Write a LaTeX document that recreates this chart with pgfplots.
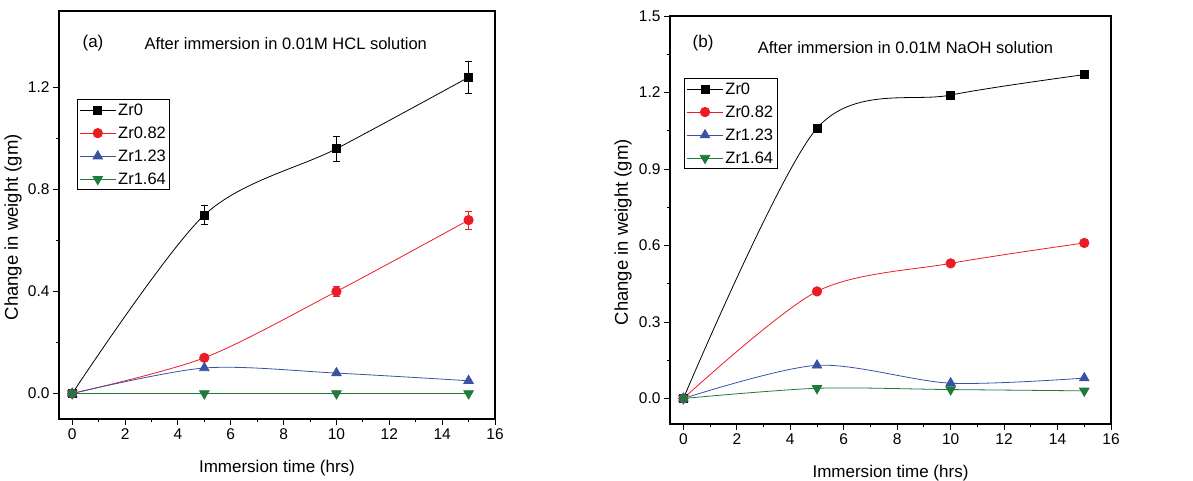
\documentclass[border=0pt]{standalone}
\usepackage{pgfplots}
\pgfplotsset{compat=1.18}
\usepackage{fontspec}
\setmainfont{Liberation Sans}
\definecolor{zred}{RGB}{237,28,36}
\definecolor{zblue}{RGB}{58,82,164}
\definecolor{zgreen}{RGB}{30,123,58}
\pgfplotsset{
  common/.style={
    scale only axis,
    xmin=-0.5, xmax=16, ymin=-0.1, ymax=1.5,
    xtick={0,2,...,16}, minor x tick num=1, minor y tick num=1,
    tick align=outside, xtick pos=left, ytick pos=left,
    major tick length=6pt, minor tick length=3.5pt,
    every tick/.style={black, line width=0.9pt},
    axis line style={line width=1.1pt},
    /pgf/number format/assume math mode=true,
    yticklabel style={/pgf/number format/.cd, fixed, fixed zerofill, precision=1},
    ticklabel style={font=\fontsize{15.5}{17}\selectfont},
    xlabel style={font=\fontsize{17}{19}\selectfont, at={([yshift=-49pt]axis description cs:0.5,0)}, anchor=center},
    ylabel style={font=\fontsize{18.5}{20}\selectfont},
    legend style={font=\fontsize{16.5}{18}\selectfont, draw=black, line width=1pt, anchor=north west, inner sep=2pt, row sep=6pt},
    legend cell align=left,
    legend image code/.code={\draw[mark repeat=2,mark phase=2,line width=0.8pt] plot coordinates {(0pt,0pt) (18pt,0pt) (36pt,0pt)};},
    every axis plot/.append style={line width=0.8pt, smooth},
    xlabel={Immersion time (hrs)},
    ylabel={Change in weight (gm)},
  },
  ebar/.style={error bars/.cd, y dir=both, y explicit, error bar style={line width=0.9pt, solid}, error mark options={rotate=90, mark size=3.5pt, line width=0.9pt}},
}
\begin{document}
\begin{tikzpicture}
\useasboundingbox (0,0) rectangle (1193pt,481pt);
% ---------------- (a) ----------------
\begin{axis}[common, at={(59pt,62pt)}, anchor=south west, width=436pt, height=408pt,
  ytick={0,0.4,0.8,1.2},
  ylabel style={at={([xshift=-46pt]axis description cs:0,0.47)}, anchor=center},
  legend style={at={(axis description cs:0.041,0.784)}}]
\addplot[black, mark=square*, mark size=4pt, ebar] coordinates {
  (0,0) +- (0,0)
  (5,0.70) +- (0,0.036)
  (10,0.96) +- (0,0.049)
  (15,1.24) +- (0,0.062)
};
\addlegendentry{Zr0}
\addplot[zred, mark=*, mark size=4.7pt, ebar] coordinates {
  (0,0) +- (0,0)
  (5,0.14) +- (0,0.01)
  (10,0.40) +- (0,0.02)
  (15,0.68) +- (0,0.035)
};
\addlegendentry{Zr0.82}
\addplot[zblue, mark=triangle*, mark size=5.5pt] coordinates {
  (0,0) (5,0.10) (10,0.08) (15,0.05)
};
\addlegendentry{Zr1.23}
\addplot[zgreen, mark=triangle*, mark options={rotate=180}, mark size=5.5pt] coordinates {
  (0,0) (5,0) (10,0) (15,0)
};
\addlegendentry{Zr1.64}
\node[font=\fontsize{17}{19}\selectfont] at (axis description cs:0.078,0.921) {(a)};
\node[font=\fontsize{16.5}{19}\selectfont] at (axis description cs:0.52,0.921) {After immersion in 0.01M HCL solution};
\end{axis}
% ---------------- (b) ----------------
\begin{axis}[common, at={(670pt,57pt)}, anchor=south west, width=441pt, height=408pt,
  ytick={0,0.3,0.6,0.9,1.2,1.5},
  ylabel style={at={([xshift=-47pt]axis description cs:0,0.47)}, anchor=center},
  legend style={at={(axis description cs:0.032,0.848)}}]
\addplot[black, mark=square*, mark size=4pt] coordinates {
  (0,0) (5,1.06) (10,1.19) (15,1.27)
};
\addlegendentry{Zr0}
\addplot[zred, mark=*, mark size=4.7pt] coordinates {
  (0,0) (5,0.42) (10,0.53) (15,0.61)
};
\addlegendentry{Zr0.82}
\addplot[zblue, mark=triangle*, mark size=5.5pt] coordinates {
  (0,0) (5,0.13) (10,0.06) (15,0.08)
};
\addlegendentry{Zr1.23}
\addplot[zgreen, mark=triangle*, mark options={rotate=180}, mark size=5.5pt] coordinates {
  (0,0) (5,0.04) (10,0.035) (15,0.03)
};
\addlegendentry{Zr1.64}
\node[font=\fontsize{17}{19}\selectfont] at (axis description cs:0.075,0.934) {(b)};
\node[font=\fontsize{16.5}{19}\selectfont] at (axis description cs:0.534,0.922) {After immersion in 0.01M NaOH solution};
\end{axis}
\end{tikzpicture}
\end{document}
